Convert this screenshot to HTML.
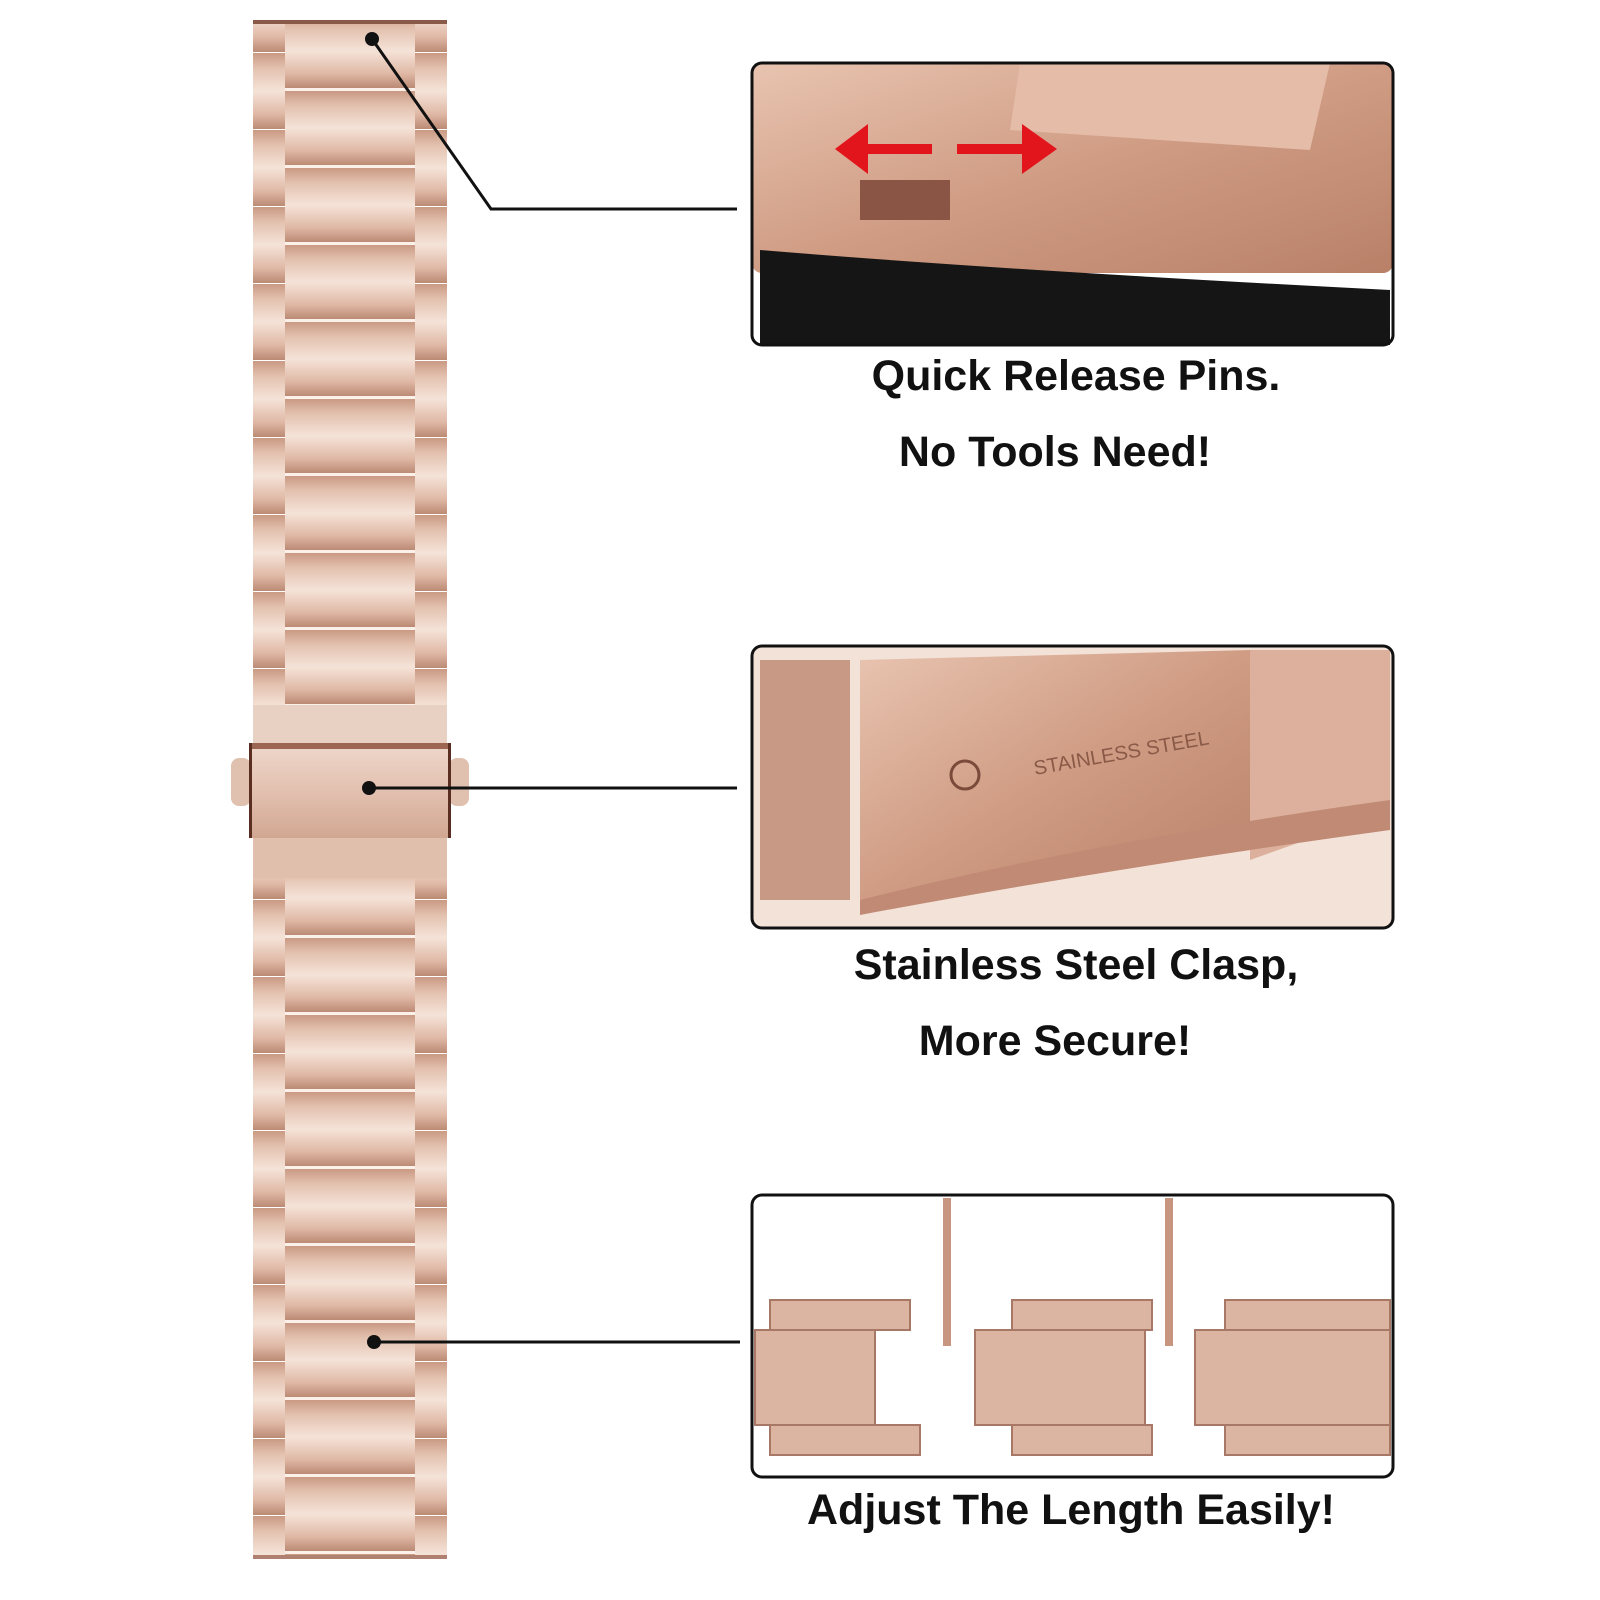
<!DOCTYPE html>
<html><head><meta charset="utf-8"><style>
body{margin:0;background:#fff;width:1600px;height:1600px;overflow:hidden;position:relative;font-family:"Liberation Sans",sans-serif}
.t{position:absolute;font-weight:bold;font-size:43px;color:#111;white-space:nowrap;transform:translateX(-50%)}
</style></head><body>
<svg width="1600" height="1600" style="position:absolute;left:0;top:0">
<defs>
<linearGradient id="v" x1="0" y1="0" x2="0" y2="1">
<stop offset="0" stop-color="#c99a84"/><stop offset="0.2" stop-color="#e3c1af"/><stop offset="0.5" stop-color="#f5e3d8"/><stop offset="0.8" stop-color="#e0b9a6"/><stop offset="1" stop-color="#bb8a74"/></linearGradient>
<linearGradient id="c" x1="0" y1="0" x2="0" y2="1">
<stop offset="0" stop-color="#eed8cc"/><stop offset="0.5" stop-color="#e3c1b0"/><stop offset="1" stop-color="#d1a792"/></linearGradient>
<linearGradient id="p" x1="0" y1="0" x2="1" y2="1">
<stop offset="0" stop-color="#e8c4b0"/><stop offset="0.5" stop-color="#d09c84"/><stop offset="1" stop-color="#b98068"/></linearGradient>
<pattern id="L" patternUnits="userSpaceOnUse" x="0" y="53" width="1600" height="77">
<rect x="253" y="0" width="32" height="76" fill="url(#v)"/>
<rect x="415" y="0" width="32" height="76" fill="url(#v)"/>
<rect x="285" y="38" width="130" height="74" fill="url(#v)"/>
<rect x="285" y="-39" width="130" height="74" fill="url(#v)"/>
<rect x="285" y="35" width="130" height="3" fill="#fbf1ea"/>
</pattern>
</defs>
<rect x="253" y="20" width="194" height="685" fill="url(#L)"/>
<rect x="253" y="20" width="194" height="4" fill="#8a5a48"/>
<rect x="253" y="878" width="194" height="681" fill="url(#L)"/>
<rect x="253" y="1555" width="194" height="4" fill="#b08070"/>
<rect x="253" y="705" width="194" height="38" fill="#e8d0c3"/>
<rect x="231" y="758" width="20" height="48" rx="8" fill="#e0c0ae"/>
<rect x="449" y="758" width="20" height="48" rx="8" fill="#e0c0ae"/>
<rect x="249" y="743" width="202" height="95" fill="url(#c)"/>
<rect x="249" y="743" width="202" height="6" fill="#9c6652"/>
<rect x="249" y="743" width="3" height="95" fill="#5a2e20"/>
<rect x="448" y="743" width="3" height="95" fill="#5a2e20"/>
<rect x="253" y="838" width="194" height="40" fill="#e0bfad"/>
<g stroke="#111" stroke-width="3" fill="none">
<polyline points="372,39 491,209 737,209"/>
<line x1="369" y1="788" x2="737" y2="788"/>
<line x1="374" y1="1342" x2="740" y2="1342"/>
</g>
<circle cx="372" cy="39" r="7" fill="#111"/>
<circle cx="369" cy="788" r="7" fill="#111"/>
<circle cx="374" cy="1342" r="7" fill="#111"/>
<rect x="752" y="63" width="641" height="282" rx="10" fill="#fff"/>
<rect x="752" y="63" width="641" height="210" rx="10" fill="url(#p)"/>
<path d="M760 250 Q1000 270 1390 290 L1390 345 L760 345Z" fill="#151515"/>
<path d="M1020 63 L1330 63 L1310 150 L1010 130Z" fill="#e4bca8"/>
<rect x="860" y="180" width="90" height="40" fill="#8a5544"/>
<g fill="#e2141c"><rect x="862" y="144" width="70" height="10"/><polygon points="835,149 868,124 868,174"/>
<rect x="957" y="144" width="65" height="10"/><polygon points="1057,149 1022,124 1022,174"/></g>
<rect x="752" y="63" width="641" height="282" rx="10" fill="none" stroke="#111" stroke-width="3"/>
<rect x="752" y="646" width="641" height="282" rx="10" fill="#f3e2d8"/>
<path d="M860 660 L1250 650 L1250 850 Q1050 880 860 900Z" fill="url(#p)"/>
<path d="M760 660 L850 660 L850 900 L760 900Z" fill="#c89a86"/>
<path d="M1250 650 L1390 650 L1390 810 L1250 860Z" fill="#dcb09c"/>
<path d="M860 900 Q1100 840 1390 800 L1390 830 Q1100 870 860 915Z" fill="#c08a74"/>
<circle cx="965" cy="775" r="14" fill="none" stroke="#7a4a3a" stroke-width="3"/>
<text x="1035" y="775" font-size="20" fill="#8a5a48" transform="rotate(-10 1035 775)" font-family="Liberation Sans">STAINLESS STEEL</text>
<rect x="752" y="646" width="641" height="282" rx="10" fill="none" stroke="#111" stroke-width="3"/>
<rect x="752" y="1195" width="641" height="282" rx="10" fill="#fff"/>
<rect x="943" y="1198" width="8" height="148" fill="#c89580"/>
<rect x="1165" y="1198" width="8" height="148" fill="#c89580"/>
<g fill="#dcb4a2" stroke="#a87866" stroke-width="2">
<rect x="770" y="1300" width="140" height="30"/><rect x="755" y="1330" width="120" height="95"/><rect x="770" y="1425" width="150" height="30"/>
<rect x="1012" y="1300" width="140" height="30"/><rect x="975" y="1330" width="170" height="95"/><rect x="1012" y="1425" width="140" height="30"/>
<rect x="1225" y="1300" width="165" height="30"/><rect x="1195" y="1330" width="195" height="95"/><rect x="1225" y="1425" width="165" height="30"/>
</g>
<rect x="752" y="1195" width="641" height="282" rx="10" fill="none" stroke="#111" stroke-width="3"/>
</svg>
<div class="t" style="left:1076px;top:352px">Quick Release Pins.</div>
<div class="t" style="left:1055px;top:428px">No Tools Need!</div>
<div class="t" style="left:1076px;top:941px">Stainless Steel Clasp,</div>
<div class="t" style="left:1055px;top:1017px">More Secure!</div>
<div class="t" style="left:1071px;top:1486px">Adjust The Length Easily!</div>
</body></html>
